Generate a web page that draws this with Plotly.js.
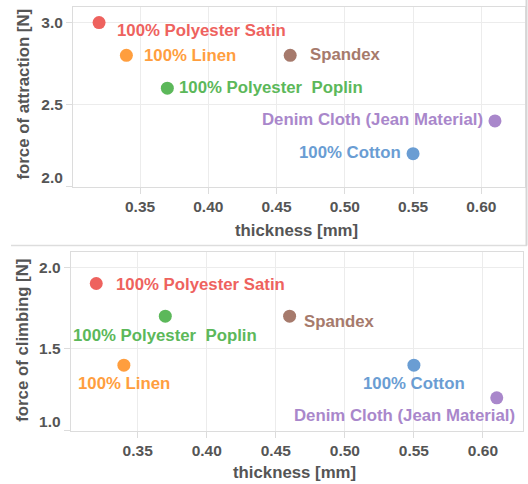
<!DOCTYPE html>
<html>
<head>
<meta charset="utf-8">
<script src="https://cdn.plot.ly/plotly-3.0.1.min.js"></script>
<style>
html,body{margin:0;padding:0;background:#fff;}
#chart{width:528px;height:484px;}
</style>
</head>
<body>
<div id="chart"></div>
<script>
// ---- data ----
var materials = ['100% Polyester Satin', '100% Linen', 'Spandex', '100% Polyester  Poplin', 'Denim Cloth (Jean Material)', '100% Cotton'];
var thickness = [0.32, 0.34, 0.46, 0.37, 0.61, 0.55];
var attraction = [3.0, 2.8, 2.8, 2.6, 2.4, 2.2];
var climbing = [1.9, 1.4, 1.7, 1.7, 1.2, 1.4];
var xTickVals = [0.35, 0.40, 0.45, 0.50, 0.55, 0.60];
var xTickText = ['0.35', '0.40', '0.45', '0.50', '0.55', '0.60'];
var yTopTickVals = [2.0, 2.5, 3.0];
var yTopTickText = ['', '2.5', '3.0'];
var yTopFlushVals = [2.0];
var yTopFlushText = ['2.0'];
var yBotTickVals = [1.0, 1.5, 2.0];
var yBotTickText = ['', '1.5', '2.0'];
var yBotFlushVals = [1.0];
var yBotFlushText = ['1.0'];
var xTitle = 'thickness [mm]';
var yTopTitle = 'force of attraction [N]';
var yBotTitle = 'force of climbing [N]';

// ---- styles ----
var colors = ['#ee625e', '#ff9e3e', '#a67a6c', '#5cb85a', '#a987cb', '#6a9dd3'];
var FONT = 'Liberation Sans, Arial, sans-serif';
var GREY = '#555555';
// label placement per point: [xanchor, xshift, yshift]
var topLabelPos = [['left', 16, -8], ['left', 16, 0], ['left', 18, 1], ['left', 10, 1], ['right', -10, 1], ['right', -10, 1]];
var botLabelPos = [['left', 18, -1], ['center', 0, -18], ['left', 12, -5], ['center', 0, -19], ['right', 20, -18], ['center', 0, -18]];

var W = 528, H = 484;
function px(x) { return x / W; }
function py(y) { return 1 - y / H; }

var traces = [
  {x: thickness, y: attraction, xaxis: 'x', yaxis: 'y', mode: 'markers', type: 'scatter',
   marker: {size: 13, color: colors, line: {width: 0}}, cliponaxis: false, hoverinfo: 'skip'},
  {x: thickness, y: climbing, xaxis: 'x2', yaxis: 'y2', mode: 'markers', type: 'scatter',
   marker: {size: 13, color: colors, line: {width: 0}}, cliponaxis: false, hoverinfo: 'skip'}
];

var annotations = [];
for (var i = 0; i < materials.length; i++) {
  annotations.push({x: thickness[i], y: attraction[i], xref: 'x', yref: 'y', text: materials[i],
    showarrow: false, xanchor: topLabelPos[i][0], yanchor: 'middle', xshift: topLabelPos[i][1], yshift: topLabelPos[i][2],
    font: {family: FONT, size: 16.8, weight: 700, color: colors[i]}});
  annotations.push({x: thickness[i], y: climbing[i], xref: 'x2', yref: 'y2', text: materials[i],
    showarrow: false, xanchor: botLabelPos[i][0], yanchor: 'middle', xshift: botLabelPos[i][1], yshift: botLabelPos[i][2],
    font: {family: FONT, size: 16.8, weight: 700, color: colors[i]}});
}
var titleFont = {family: FONT, size: 16.8, weight: 700, color: GREY};
annotations.push({xref: 'paper', yref: 'paper', x: px(296.5), y: py(230), text: xTitle, showarrow: false, xanchor: 'center', yanchor: 'middle', font: titleFont});
annotations.push({xref: 'paper', yref: 'paper', x: px(294), y: py(472), text: xTitle, showarrow: false, xanchor: 'center', yanchor: 'middle', font: titleFont});
annotations.push({xref: 'paper', yref: 'paper', x: px(23), y: py(94.5), text: yTopTitle, textangle: -90, showarrow: false, xanchor: 'center', yanchor: 'middle', font: titleFont});
annotations.push({xref: 'paper', yref: 'paper', x: px(23), y: py(340.8), text: yBotTitle, textangle: -90, showarrow: false, xanchor: 'center', yanchor: 'middle', font: titleFont});

var tickFont = {family: FONT, size: 15.5, weight: 700, color: GREY};
function xAxis(domain, range) {
  return {domain: domain, range: range, tickvals: xTickVals, ticktext: xTickText,
    showgrid: true, gridcolor: '#ececec', gridwidth: 1, zeroline: false,
    showline: true, linecolor: '#dcdcdc', linewidth: 1, mirror: true,
    ticks: 'outside', ticklen: 6, tickcolor: '#dcdcdc', tickwidth: 1,
    tickfont: tickFont, fixedrange: true};
}
function yAxis(domain, range, tv, tt, anchor) {
  return {domain: domain, range: range, tickvals: tv, ticktext: tt, anchor: anchor,
    showgrid: true, gridcolor: '#ececec', gridwidth: 1, zeroline: false,
    showline: true, linecolor: '#dcdcdc', linewidth: 1, mirror: true,
    ticks: 'outside', ticklen: 6, tickcolor: '#dcdcdc', tickwidth: 1,
    tickfont: tickFont, fixedrange: true};
}
// overlay axis that shows only the flush (end-of-range) label, shifted upward
function yFlush(overlay, range, tv, tt, anchor) {
  return {overlaying: overlay, range: range, tickvals: tv, ticktext: tt, anchor: anchor, side: 'left',
    showgrid: false, zeroline: false, showline: false,
    ticks: 'outside', ticklen: 6, tickcolor: 'rgba(0,0,0,0)', tickwidth: 1,
    ticklabelshift: -9, tickfont: tickFont, fixedrange: true};
}

var xa1 = xAxis([px(73), px(525)], [0.3009, 0.632]); xa1.anchor = 'y';
var xa2 = xAxis([px(70.7), px(523)], [0.3015, 0.629]); xa2.anchor = 'y2';
var yTopRange = [2.0, 3.095];
var yBotRange = [1.0, 2.093];

var layout = {
  width: W, height: H,
  margin: {l: 0, r: 0, t: 0, b: 0, pad: 0},
  paper_bgcolor: '#ffffff', plot_bgcolor: '#ffffff',
  showlegend: false,
  xaxis: xa1,
  yaxis: yAxis([py(186.5), py(7)], yTopRange, yTopTickVals, yTopTickText, 'x'),
  xaxis2: xa2,
  yaxis2: yAxis([py(430.5), py(252)], yBotRange, yBotTickVals, yBotTickText, 'x2'),
  yaxis3: yFlush('y', yTopRange, yTopFlushVals, yTopFlushText, 'x'),
  yaxis4: yFlush('y2', yBotRange, yBotFlushVals, yBotFlushText, 'x2'),
  annotations: annotations,
  shapes: [
    {type: 'line', xref: 'paper', yref: 'paper', x0: px(11), x1: px(527), y0: py(245.5), y1: py(245.5), line: {color: '#dddddd', width: 1.5}},
    {type: 'line', xref: 'paper', yref: 'paper', x0: px(526.5), x1: px(526.5), y0: py(0), y1: py(245.5), line: {color: '#d6d6d6', width: 2}}
  ]
};

// invisible traces so the overlay axes are drawn
traces.push({x: [], y: [], xaxis: 'x', yaxis: 'y3', type: 'scatter', mode: 'markers', hoverinfo: 'skip'});
traces.push({x: [], y: [], xaxis: 'x2', yaxis: 'y4', type: 'scatter', mode: 'markers', hoverinfo: 'skip'});

Plotly.newPlot('chart', traces, layout, {displayModeBar: false, staticPlot: true});
</script>
</body>
</html>
